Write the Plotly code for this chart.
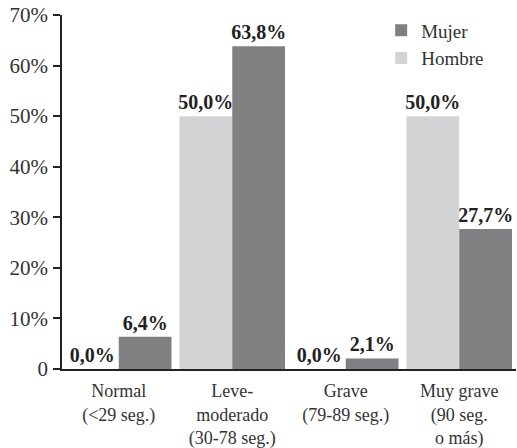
import plotly.graph_objects as go

categories = ["Normal<br>(<29 seg.)", "Leve-<br>moderado<br>(30-78 seg.)", "Grave<br>(79-89 seg.)", "Muy grave<br>(90 seg.<br>o más)"]
hombre = [0.0, 50.0, 0.0, 50.0]
mujer = [6.4, 63.8, 2.1, 27.7]
y_ticks = [0, 10, 20, 30, 40, 50, 60, 70]
y_ticktext = ["0", "10%", "20%", "30%", "40%", "50%", "60%", "70%"]

def fmt(v):
    return f"{v:.1f}%".replace(".", ",")

FONT = "Liberation Serif, DejaVu Serif, serif"
fig = go.Figure()
fig.add_trace(go.Bar(
    name="Hombre", x=categories, y=hombre,
    marker=dict(color="#d3d3d5", line=dict(width=0)),
    text=[fmt(v) for v in hombre], textposition="outside",
    textfont=dict(family=FONT, size=20, color="#222222", weight="bold"),
    constraintext="none", cliponaxis=False,
))
fig.add_trace(go.Bar(
    name="Mujer", x=categories, y=mujer,
    marker=dict(color="#808082", line=dict(width=0)),
    text=[fmt(v) for v in mujer], textposition="outside",
    textfont=dict(family=FONT, size=20, color="#222222", weight="bold"),
    constraintext="none", cliponaxis=False,
))

fig.update_layout(
    width=517, height=448,
    margin=dict(l=62, r=1, t=15, b=79),
    paper_bgcolor="white", plot_bgcolor="white",
    barmode="group", bargap=0.07, bargroupgap=0,
    font=dict(family=FONT, size=18, color="#333333"),
    showlegend=True,
    legend=dict(
        x=0.703, y=1.01, xanchor="left", yanchor="top",
        traceorder="reversed", font=dict(family=FONT, size=19, color="#333333"),
        bgcolor="rgba(0,0,0,0)", itemwidth=30, tracegroupgap=0,
    ),
    xaxis=dict(
        automargin=False,
        showline=True, linecolor="#222222", linewidth=1.5,
        ticks="", showgrid=False, zeroline=False,
        ticklabelstandoff=5,
        tickfont=dict(family=FONT, size=18, color="#333333"),
    ),
    yaxis=dict(
        automargin=False,
        range=[0, 70], tickvals=y_ticks, ticktext=y_ticktext,
        showline=True, linecolor="#222222", linewidth=1.5,
        ticks="outside", ticklen=7, tickcolor="#222222", tickwidth=1.5,
        ticklabelstandoff=1,
        showgrid=False, zeroline=False,
        tickfont=dict(family=FONT, size=21, color="#333333"),
    ),
)

fig.write_html("out.html", config={"displayModeBar": False},
               post_script="document.body.style.margin='0';")
